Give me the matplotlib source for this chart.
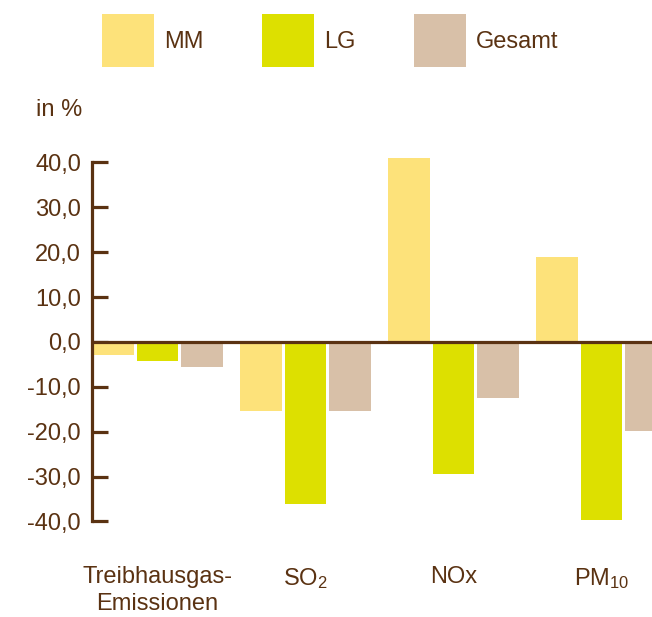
import matplotlib
matplotlib.use("Agg")
import matplotlib.pyplot as plt
import numpy as np

# Werte in %
categories = ["Treibhausgas-\nEmissionen", r"$\mathrm{SO_2}$", "NOx", r"$\mathrm{PM_{10}}$"]
series = ["MM", "LG", "Gesamt"]
mm = [-2.9, -15.3, 41.0, 18.9]
lg = [-4.2, -36.0, -29.4, -39.6]
gesamt = [-5.6, -15.3, -12.5, -19.8]
yticks = [-40, -30, -20, -10, 0, 10, 20, 30, 40]

colors = ["#fde27a", "#dde000", "#d8c0a8"]
brown = "#5a3212"

plt.rcParams["font.family"] = ["Liberation Sans Narrow", "Liberation Sans", "DejaVu Sans"]
plt.rcParams["mathtext.fontset"] = "custom"
plt.rcParams["mathtext.rm"] = "Liberation Sans"
plt.rcParams["mathtext.it"] = "Liberation Sans"

fig = plt.figure(figsize=(6.52, 6.17), dpi=100)
ax = fig.add_axes([92 / 652, 0.1185, 1 - 92 / 652, 0.6545])

step = 1.0
width = 0.933
group = 3.326
x = np.arange(len(categories)) * group

for k, (vals, lab) in enumerate(zip([mm, lg, gesamt], series)):
    ax.bar(x + k * step, vals, width, color=colors[k], label=lab, zorder=2)

ax.axhline(0, color=brown, lw=2.3, zorder=3)

ax.set_xlim(-width / 2, -width / 2 + 560 / 44.5)
ax.set_ylim(-45, 45)

for s in ["top", "right", "bottom"]:
    ax.spines[s].set_visible(False)
ax.spines["left"].set_bounds(-40, 40)
ax.spines["left"].set_color(brown)
ax.spines["left"].set_linewidth(2.3)

ax.set_yticks(yticks)
ax.set_yticklabels([f"{v:.1f}".replace(".", ",") for v in yticks])
ax.tick_params(axis="y", direction="in", length=11.5, width=2.3, color=brown,
               labelcolor=brown, labelsize=17, pad=8)
ax.set_xticks(x + step)
ax.set_xticklabels(categories, fontsize=17, color=brown, linespacing=1.3)
ax.tick_params(axis="x", length=0, pad=16)

fig.text(36 / 652, 1 - 110 / 617, "in %", fontsize=17, color=brown, va="center")

leg = fig.legend(loc="upper left", bbox_to_anchor=(102 / 652, 1 - 14 / 617), ncol=3,
                 frameon=False, fontsize=17, handlelength=2.2, handleheight=3.1,
                 handletextpad=0.45, columnspacing=2.45, borderpad=0, borderaxespad=0)
for t in leg.get_texts():
    t.set_color(brown)

fig.savefig("out.png", dpi=100)
